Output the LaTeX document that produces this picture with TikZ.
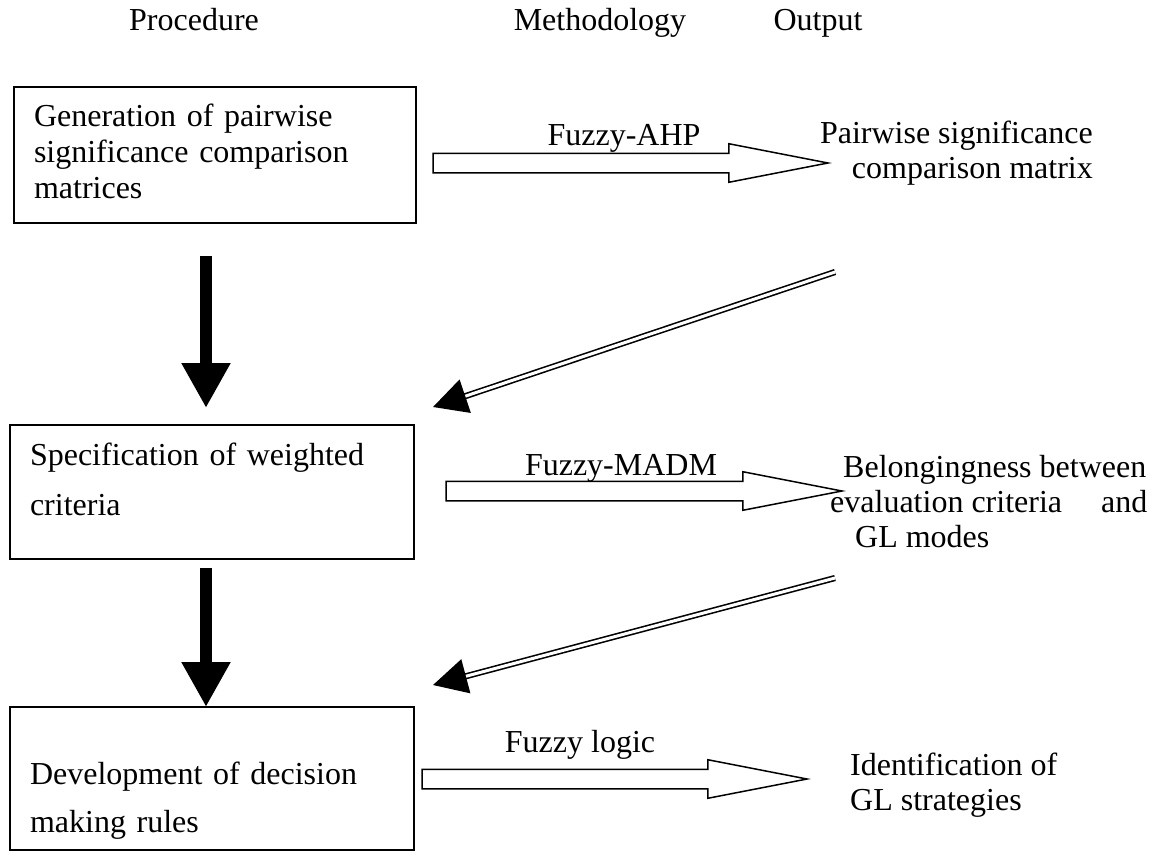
\documentclass[tikz,border=0pt]{standalone}
\usepackage{fontspec}
\setmainfont{Liberation Serif}
\usetikzlibrary{arrows.meta,shapes.arrows,positioning}
\tikzstyle{block} = [draw, rectangle, line width=1.5pt, anchor=north west, align=left, inner xsep=20pt, inner ysep=0pt, outer sep=0pt]
\tikzstyle{hollow} = [draw, single arrow, anchor=tail, line width=1.5pt, inner xsep=0pt, inner ysep=9pt, single arrow head extend=9.5pt, single arrow tip angle=22, outer sep=0pt]
\tikzstyle{txt} = [inner sep=0pt, font=\fontsize{32}{35}\selectfont]
\tikzstyle{heavy} = [line width=12pt, -{Triangle[width=46pt,length=45pt]}]
\tikzstyle{feedback} = [double, line width=1.6pt, double distance=3pt, -{Triangle[width=35pt,length=34pt]}]
\newcommand{\topstrut}[1]{\rule{0pt}{#1}}
\newcommand{\botstrut}[1]{\rule[-#1]{0pt}{#1}}

\begin{document}
\begin{tikzpicture}[x=1pt, y=1pt]
\useasboundingbox (0,0) rectangle (1158,-865);

\node [txt, anchor=base] (hproc) at (194,-30) {Procedure};
\node [txt, anchor=base] (hmeth) at (600,-30) {Methodology};
\node [txt, anchor=base] (hout) at (818,-30) {Output};

\node [block, text width=362pt, font=\fontsize{32}{36}\selectfont] (gen) at (14,-87) {\topstrut{39pt}Generation of pairwise\\significance comparison\\matrices\botstrut{25pt}};
\node [block, text width=364pt, font=\fontsize{32}{50}\selectfont] (spec) at (10,-425) {\topstrut{40pt}Specification of weighted\\criteria\botstrut{44pt}};
\node [block, text width=364pt, font=\fontsize{32}{48}\selectfont] (dev) at (10,-707) {\topstrut{77pt}Development of decision\\making rules\botstrut{18pt}};

\node [hollow, minimum height=395pt] (ahp) at (433,-163) {};
\node [hollow, minimum height=396pt] (madm) at (446,-491) {};
\node [hollow, minimum height=385pt] (flogic) at (422,-779) {};

\node [txt, anchor=base] (mahp) at (624,-145) {Fuzzy-AHP};
\node [txt, anchor=base] (mmadm) at (621,-475) {Fuzzy-MADM};
\node [txt, anchor=base] (mlogic) at (580,-752) {Fuzzy logic};

\node [txt, align=right, anchor=north east] (pairwise) at (1093,-121) {Pairwise significance\\comparison matrix};
\node [txt, align=left, anchor=north west] (belong) at (830,-455) {\hspace*{13pt}Belongingness between\\\makebox[317pt][l]{evaluation criteria\hfill and}\\\hspace*{25pt}GL modes};
\node [txt, align=left, anchor=north west] (ident) at (850,-753) {Identification of\\GL strategies};

\draw [heavy, shorten <=33pt, shorten >=17pt] ([xshift=-9pt]gen.south) -- ([xshift=-9pt]gen.south |- spec.north);
\draw [heavy, shorten <=9pt] ([xshift=-6pt]spec.south) -- ([xshift=-6pt]spec.south |- dev.north);

\coordinate (back1) at (835,-272);
\coordinate (back2) at (835,-578);
\draw [feedback] (back1) -- ([shift={(19pt,18pt)}]spec.north east);
\draw [feedback] (back2) -- ([shift={(19pt,22pt)}]dev.north east);

\end{tikzpicture}
\end{document}
